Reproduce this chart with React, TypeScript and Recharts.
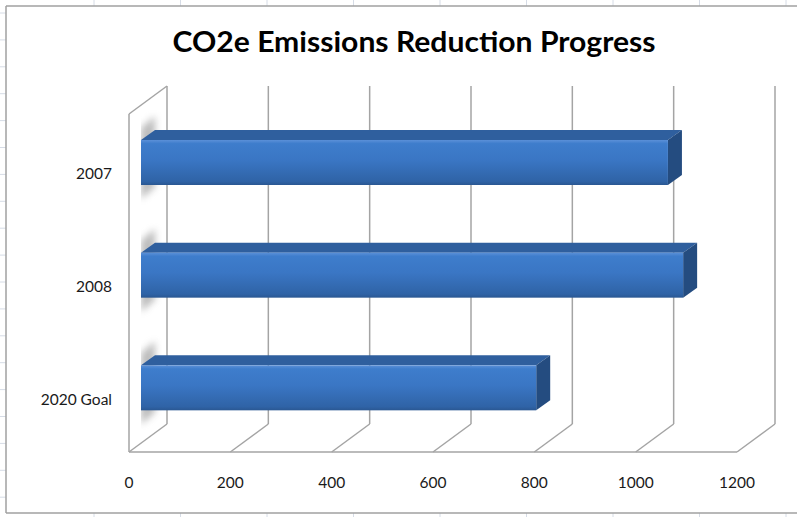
import React from 'react';
import { BarChart, Bar, XAxis, YAxis, CartesianGrid } from 'recharts';

const categories = ['2007', '2008', '2020 Goal'];
const emissions = [1040, 1070, 780];
const valueTicks = [0, 200, 400, 600, 800, 1000, 1200];
const chartTitle = 'CO2e Emissions Reduction Progress';

const data = categories.map((name, i) => ({ name, value: emissions[i] }));

const W = 797;
const H = 517;
// 3d look: offset of the back wall, inset and thickness of the bars
const DEPTH_X = 38;
const DEPTH_Y = 28;
const BAR_X = 12;
const BAR_Y = 8;
const BAR_DX = 14;
const BAR_DY = 10;
const WALL = '#a4a4a4';
const SHEET = '#d6dce6';
const FONT = 'Lato, "Open Sans", sans-serif';

const renderGridLine = (props: any) => {
    const { x1, y1, y2, index } = props;
    return (
        <g key={`grid-${index}`} stroke={WALL} strokeWidth={1.5} fill="none">
            <line x1={x1 + DEPTH_X} y1={y1 - DEPTH_Y} x2={x1 + DEPTH_X} y2={y2 - DEPTH_Y} />
            <line x1={x1} y1={y2} x2={x1 + DEPTH_X} y2={y2 - DEPTH_Y} />
            {index === 0 && (
                <>
                    <line x1={x1} y1={y1} x2={x1} y2={y2} />
                    <line x1={x1} y1={y1} x2={x1 + DEPTH_X} y2={y1 - DEPTH_Y} />
                </>
            )}
        </g>
    );
};

const Bar3D = (props: any) => {
    const { x, y, width, height, index } = props;
    if (width == null || height == null) return null;
    const fx = x + BAR_X;
    const fy = y - BAR_Y;
    const fr = fx + width;
    const fb = fy + height;
    return (
        <g>
            <defs>
                <linearGradient id={`front-${index}`} x1="0" y1="0" x2="0" y2="1">
                    <stop offset="0" stopColor="#5b90d8" />
                    <stop offset="0.08" stopColor="#3e7dcc" />
                    <stop offset="0.45" stopColor="#3a76c4" />
                    <stop offset="0.92" stopColor="#2f63a6" />
                    <stop offset="1" stopColor="#2a5792" />
                </linearGradient>
                <filter id={`soft-${index}`} x="-50%" y="-50%" width="200%" height="200%">
                    <feGaussianBlur stdDeviation="3.5" />
                </filter>
                <clipPath id={`wall-${index}`}>
                    <rect x={fx} y={fy - 40} width={30} height={height + 80} />
                </clipPath>
            </defs>
            <g clipPath={`url(#wall-${index})`}>
                <polygon
                    points={`${fx},${fy - 12} ${fx + BAR_DX},${fy - 24} ${fx + BAR_DX},${fb + 2} ${fx},${fb + 14}`}
                    fill="#7a7a7a"
                    opacity={0.5}
                    filter={`url(#soft-${index})`}
                />
            </g>
            <polygon
                points={`${fx},${fy} ${fx + BAR_DX},${fy - BAR_DY} ${fr + BAR_DX},${fy - BAR_DY} ${fr},${fy}`}
                fill="#2f5f9e"
            />
            <polygon
                points={`${fr},${fy} ${fr + BAR_DX},${fy - BAR_DY} ${fr + BAR_DX},${fb - BAR_DY} ${fr},${fb}`}
                fill="#244c80"
            />
            <rect x={fx} y={fy} width={width} height={height} fill={`url(#front-${index})`} />
        </g>
    );
};

const XTick = (props: any) => {
    const { x, y, payload } = props;
    return (
        <text x={x} y={y} textAnchor="middle" fontFamily={FONT} fontSize={15.5} fill="#1a1a1a">
            {payload.value}
        </text>
    );
};

const YTick = (props: any) => {
    const { x, y, payload } = props;
    return (
        <text x={x} y={y + 9} textAnchor="end" fontFamily={FONT} fontSize={15.5} fill="#1a1a1a">
            {payload.value}
        </text>
    );
};

export default function App() {
    const rows: number[] = [];
    for (let r = 13; r < H; r += 26.9) rows.push(r);
    const cols: number[] = [];
    for (let c = 94; c < W; c += 86.5) cols.push(c);

    return (
        <div style={{ position: 'absolute', left: 0, top: 0, width: W, height: H, background: '#fff' }}>
            <svg width={W} height={H} style={{ position: 'absolute', left: 0, top: 0 }}>
                {rows.map(r => (
                    <line key={`r${r}`} x1={0} y1={r} x2={6} y2={r} stroke={SHEET} />
                ))}
                {cols.map(c => (
                    <g key={`c${c}`} stroke={SHEET}>
                        <line x1={c} y1={0} x2={c} y2={6} />
                        <line x1={c} y1={513} x2={c} y2={H} />
                    </g>
                ))}
                <g stroke="#a0a0a0" strokeWidth={1.5} fill="none">
                    <line x1={6} y1={6} x2={W} y2={6} />
                    <line x1={6} y1={6} x2={6} y2={513} />
                    <line x1={6} y1={513} x2={W} y2={513} />
                </g>
                <text
                    x={414}
                    y={52}
                    textAnchor="middle"
                    fontFamily={FONT}
                    fontWeight="bold"
                    fontSize={28}
                    textLength={483}
                    lengthAdjust="spacingAndGlyphs"
                    fill="#000"
                >
                    {chartTitle}
                </text>
            </svg>
            <div style={{ position: 'absolute', left: 0, top: 0 }}>
                <BarChart
                    layout="vertical"
                    width={W}
                    height={H}
                    data={data}
                    margin={{ top: 114, right: 60, bottom: 35, left: 0 }}
                    barSize={45}
                >
                    <CartesianGrid horizontal={false} vertical={renderGridLine} />
                    <XAxis
                        type="number"
                        domain={[0, 1200]}
                        ticks={valueTicks}
                        interval={0}
                        height={30}
                        axisLine={{ stroke: WALL, strokeWidth: 1.5 }}
                        tickLine={false}
                        tickSize={0}
                        tickMargin={36}
                        tick={<XTick />}
                    />
                    <YAxis
                        type="category"
                        dataKey="name"
                        width={129}
                        axisLine={false}
                        tickLine={false}
                        tickSize={0}
                        tickMargin={17}
                        tick={<YTick />}
                    />
                    <Bar dataKey="value" shape={Bar3D} isAnimationActive={false} />
                </BarChart>
            </div>
        </div>
    );
}
